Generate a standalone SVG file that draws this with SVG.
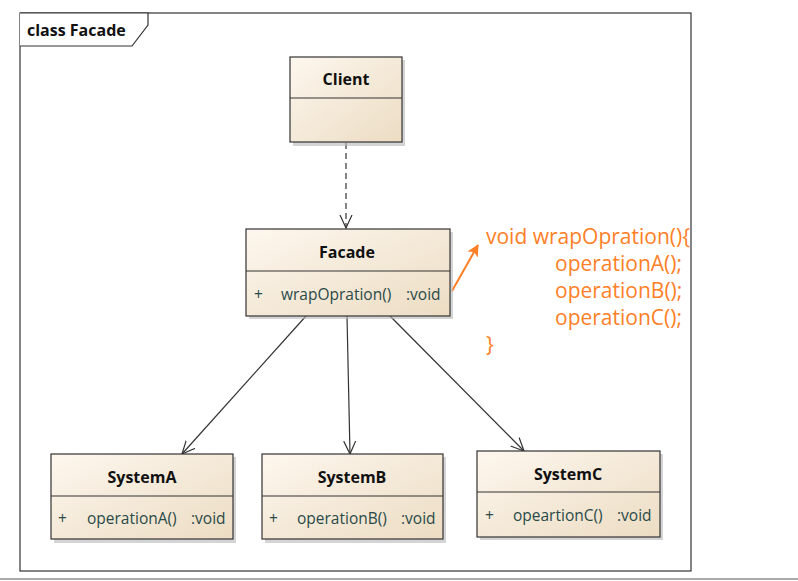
<svg xmlns="http://www.w3.org/2000/svg" width="798" height="581" viewBox="0 0 798 581">
<defs>
<linearGradient id="fill" x1="0" y1="0" x2="1" y2="1">
<stop offset="0" stop-color="#fdf7ee"/>
<stop offset="1" stop-color="#ecdcc3"/>
</linearGradient>
<marker id="open" viewBox="0 0 14 14" refX="13" refY="7" markerWidth="14" markerHeight="14" markerUnits="userSpaceOnUse" orient="auto">
<path d="M0,1 L13,7 L0,13" fill="none" stroke="#333" stroke-width="1.2"/>
</marker>
<marker id="orange" viewBox="0 0 12 12" refX="11" refY="6" markerWidth="12" markerHeight="12" markerUnits="userSpaceOnUse" orient="auto">
<path d="M0,0 L12,6 L0,12 L3,6 Z" fill="#ff7f27"/>
</marker>
</defs>
<style>
.shadow{fill:#b8b8b8;opacity:0.6}
.box{fill:url(#fill);stroke:#333;stroke-width:1.2}
.div{stroke:#333;stroke-width:1.2}
.name{font-family:"Open Sans","Noto Sans",sans-serif;font-weight:bold;font-size:16px;fill:#111;text-anchor:middle}
.op{font-family:"Open Sans","Noto Sans",sans-serif;font-size:15.5px;fill:#2a4a48}
.note{font-family:"Open Sans","Noto Sans CJK SC",sans-serif;font-size:21px;fill:#ff7f27}
.conn{stroke:#333;stroke-width:1.2;fill:none}
</style>
<rect x="0" y="0" width="798" height="581" fill="#ffffff"/>
<line x1="0" y1="579" x2="798" y2="579" stroke="#aaaaaa" stroke-width="2"/>
<g id="frame">
<rect x="20" y="13" width="671" height="558" fill="#ffffff" stroke="#333" stroke-width="1.2"/>
<path d="M20,13 L148,13 L148,25 L132,46 L20,46" fill="#ffffff" stroke="#333" stroke-width="1.2"/>
<text x="27" y="36" font-family="'Open Sans','Noto Sans',sans-serif" font-weight="bold" font-size="16" fill="#111">class Facade</text>
</g>
<g id="connectors">
<line class="conn" x1="346" y1="143" x2="346" y2="228" stroke-dasharray="6,4" marker-end="url(#open)"/>
<line class="conn" x1="306" y1="316" x2="182" y2="454" marker-end="url(#open)"/>
<line class="conn" x1="347" y1="316" x2="350" y2="454" marker-end="url(#open)"/>
<line class="conn" x1="390" y1="316" x2="524" y2="451" marker-end="url(#open)"/>
<line x1="452" y1="291" x2="478" y2="245" stroke="#ff7f27" stroke-width="2" marker-end="url(#orange)"/>
</g>
<g id="client">
<rect class="shadow" x="293" y="60" width="112" height="86"/>
<rect class="box" x="290" y="57" width="112" height="85"/>
<line class="div" x1="290" y1="98" x2="402" y2="98"/>
<text class="name" x="346" y="85">Client</text>
</g>
<g id="facade">
<rect class="shadow" x="249" y="232" width="204" height="87"/>
<rect class="box" x="246" y="229" width="204" height="87"/>
<line class="div" x1="246" y1="271" x2="450" y2="271"/>
<text class="name" x="347" y="258">Facade</text>
<text class="op" x="254" y="300">+</text>
<text class="op" x="281" y="300">wrapOpration()</text>
<text class="op" x="406" y="300">:void</text>
</g>
<g id="systemA">
<rect class="shadow" x="54" y="457" width="182" height="86"/>
<rect class="box" x="51" y="454" width="182" height="85"/>
<line class="div" x1="51" y1="496" x2="233" y2="496"/>
<text class="name" x="142" y="483">SystemA</text>
<text class="op" x="58" y="524">+</text>
<text class="op" x="87" y="524">operationA()</text>
<text class="op" x="191" y="524">:void</text>
</g>
<g id="systemB">
<rect class="shadow" x="265" y="457" width="181" height="86"/>
<rect class="box" x="262" y="454" width="181" height="85"/>
<line class="div" x1="262" y1="496" x2="443" y2="496"/>
<text class="name" x="352" y="483">SystemB</text>
<text class="op" x="269" y="524">+</text>
<text class="op" x="297" y="524">operationB()</text>
<text class="op" x="401" y="524">:void</text>
</g>
<g id="systemC">
<rect class="shadow" x="480" y="454" width="183" height="86"/>
<rect class="box" x="477" y="451" width="183" height="86"/>
<line class="div" x1="477" y1="492" x2="660" y2="492"/>
<text class="name" x="568" y="480">SystemC</text>
<text class="op" x="485" y="521">+</text>
<text class="op" x="513" y="521">opeartionC()</text>
<text class="op" x="617" y="521">:void</text>
</g>
<g id="note">
<text class="note" x="486" y="244">void wrapOpration(){</text>
<text class="note" x="555" y="271">operationA();</text>
<text class="note" x="555" y="298">operationB();</text>
<text class="note" x="555" y="325">operationC();</text>
<text class="note" x="486" y="352">}</text>
</g>
</svg>
